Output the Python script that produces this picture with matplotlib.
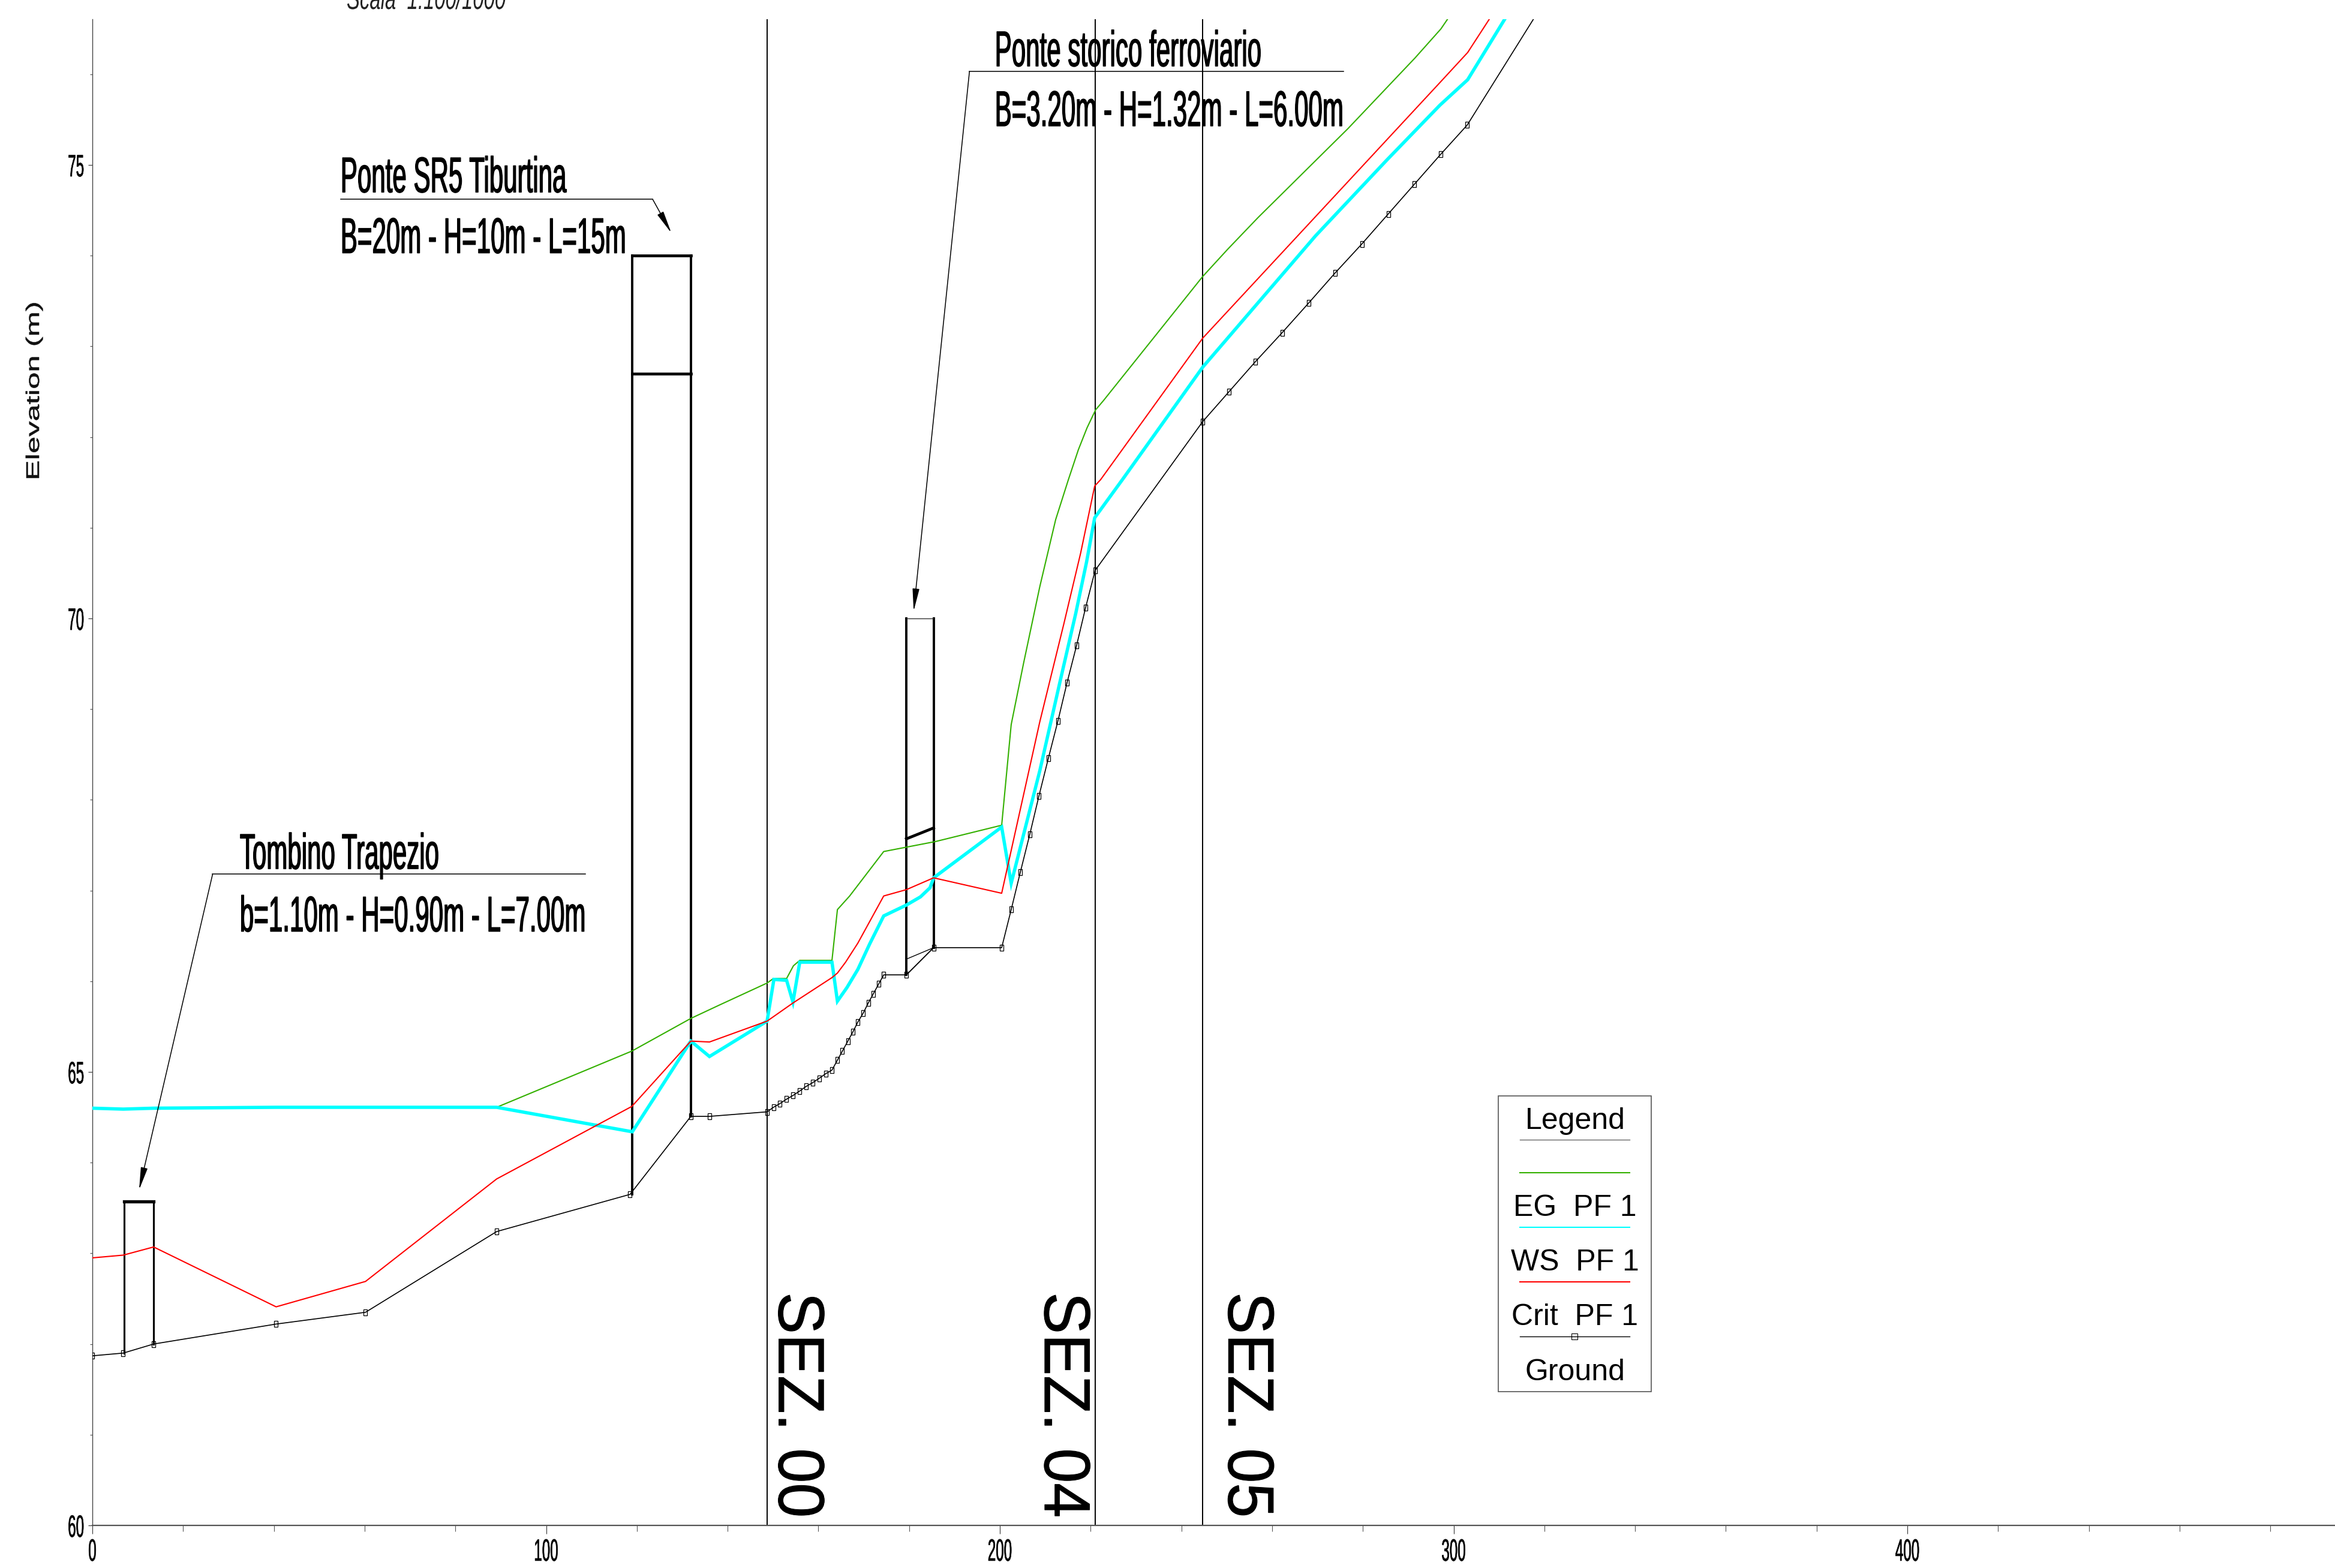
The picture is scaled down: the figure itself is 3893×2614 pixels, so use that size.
import matplotlib
matplotlib.use("Agg")
import matplotlib.pyplot as plt
from matplotlib.lines import Line2D
from matplotlib.markers import MarkerStyle
from matplotlib.patches import Rectangle
from matplotlib.patheffects import AbstractPathEffect
from matplotlib.transforms import Affine2D

W, H = 3893, 2614

# Energy grade
x_eg = [0, 6.8, 13.5, 40.5, 60.2, 89.1, 118.9, 131.9, 138.3, 148.7, 150.1, 153.0, 154.5, 155.9,
        163.0, 164.2, 166.9, 174.4, 185.8, 200.4, 202.5, 205.2, 208.8, 212.3, 215.1, 217.3,
        219.2, 221.1, 222.8, 244.7, 250.2, 256.9, 276.7, 291.5, 297.2, 298.7, 302.0]
eg = [64.60, 64.59, 64.60, 64.61, 64.61, 64.61, 65.23, 65.59, 65.74, 65.98, 66.03, 66.03, 66.17, 66.23,
      66.23, 66.79, 66.94, 67.43, 67.54, 67.72, 68.83, 69.50, 70.35, 71.09, 71.53, 71.86,
      72.10, 72.30, 72.40, 73.77, 74.07, 74.42, 75.40, 76.18, 76.50, 76.61, 77.00]

# Water surface
x_ws = [0, 6.8, 13.5, 40.5, 60.2, 89.1, 119.0, 131.9, 136.0, 148.7, 150.2, 153.0, 154.4, 155.9,
        163.0, 164.2, 166.3, 168.7, 171.3, 174.4, 179.4, 182.5, 184.6, 185.4, 200.4, 202.5,
        208.8, 213.2, 216.7, 219.1, 220.9, 227.0, 244.7, 269.6, 285.2, 297.0, 303.1, 311.3, 315.5]
ws = [64.60, 64.59, 64.60, 64.61, 64.61, 64.61, 64.34, 65.34, 65.17, 65.56, 66.02, 66.01, 65.77, 66.21,
      66.21, 65.78, 65.93, 66.13, 66.41, 66.72, 66.84, 66.93, 67.03, 67.14, 67.70, 67.08,
      68.32, 69.29, 70.05, 70.62, 71.11, 71.53, 72.77, 74.22, 75.05, 75.66, 75.94, 76.61, 77.00]

# Critical depth
x_crit = [0, 6.8, 13.5, 40.5, 60.2, 89.1, 118.9, 131.9, 136.0, 148.7, 154.4, 163.0, 164.2, 166.0,
          168.7, 174.4, 179.4, 185.4, 200.4, 208.8, 214.1, 217.8, 220.9, 222.2, 244.7, 275.5,
          297.2, 303.1, 307.9, 311.0]
crit = [62.95, 62.98, 63.07, 62.41, 62.69, 63.82, 64.62, 65.34, 65.33, 65.56, 65.76, 66.04, 66.09, 66.21,
        66.42, 66.94, 67.01, 67.14, 66.97, 68.86, 69.94, 70.72, 71.46, 71.53, 73.09, 74.75,
        75.92, 76.24, 76.61, 76.95]

# Ground
x_ground = [0, 6.8, 13.5, 40.5, 60.2, 89.1, 118.5, 131.9, 136.0, 148.7, 150.1, 151.5, 153.0, 154.4,
            155.9, 157.3, 158.7, 160.2, 161.6, 163.0, 164.2, 165.3, 166.5, 167.6, 168.7, 169.9,
            171.0, 172.1, 173.3, 174.4, 179.4, 185.4, 200.4, 202.5, 204.5, 206.6, 208.6, 210.7,
            212.8, 214.8, 216.9, 218.9, 221.0, 244.7, 250.5, 256.3, 262.2, 268.1, 273.9, 279.8,
            285.6, 291.4, 297.2, 303.0, 322.0]
ground = [61.87, 61.90, 62.00, 62.22, 62.35, 63.24, 63.65, 64.51, 64.51, 64.56, 64.61, 64.65, 64.70, 64.74,
          64.79, 64.84, 64.88, 64.93, 64.98, 65.02, 65.13, 65.23, 65.34, 65.44, 65.55, 65.65,
          65.76, 65.86, 65.97, 66.07, 66.07, 66.37, 66.37, 66.79, 67.20, 67.62, 68.04, 68.46,
          68.87, 69.29, 69.70, 70.12, 70.53, 72.17, 72.50, 72.83, 73.15, 73.48, 73.81, 74.13,
          74.46, 74.79, 75.12, 75.44, 76.96]

sez_x = [148.7, 221.0, 244.7]
sez_labels = ["SEZ. 00", "SEZ. 04", "SEZ. 05"]
sez_text_x = [148.4, 207.0, 247.5]

# Structures: left, right, top, low chord left/right, bottom left/right
tombino = [7.0, 13.5, 63.57, 61.90, 62.00]
sr5 = [119.0, 131.9, 74.0, 72.70, 63.65, 64.51]
storico = [179.4, 185.4, 70.0, 67.57, 67.69, 66.07, 66.37]

legend_labels = ["EG  PF 1", "WS  PF 1", "Crit  PF 1", "Ground"]
legend_colors = ["#33b000", "#00ffff", "#ff0000", "#000000"]

x_major = [0, 100, 200, 300, 400]
y_major = [60, 65, 70, 75]


class Squeeze(AbstractPathEffect):
    # the source drawing is stretched unevenly, so scale the glyphs around the text anchor
    def __init__(self, text, sx=1.0, sy=1.0, stroke=0.0):
        super().__init__()
        self.text = text
        self.sx = sx
        self.sy = sy
        self.stroke = stroke

    def draw_path(self, renderer, gc, tpath, affine, rgbFace=None):
        ax_, ay_ = self.text.get_transform().transform(self.text.get_position())
        extra = Affine2D().translate(-ax_, -ay_).scale(self.sx, self.sy).translate(ax_, ay_)
        gc0 = renderer.new_gc()
        gc0.copy_properties(gc)
        gc0.set_linewidth(self.stroke)
        gc0.set_foreground(rgbFace)
        renderer.draw_path(gc0, tpath, affine + extra, rgbFace)
        gc0.restore()


def squeeze(text, sx=1.0, sy=1.0, stroke=0.0):
    text.set_path_effects([Squeeze(text, sx, sy, stroke)])
    return text


def fx(px):
    return px / W


def fy(py):
    return 1 - py / H


plt.rcParams['font.family'] = ['Liberation Sans', 'DejaVu Sans']

fig = plt.figure(figsize=(W / 100, H / 100), dpi=100)
ax = fig.add_axes([fx(154), fy(2543), fx(W - 154), fy(32) - fy(2543)])
ax.set_xlim(0, (W - 154) / 7.565)
ax.set_ylim(60, 60 + (2543 - 32) / 151.2)

for side in ['top', 'right']:
    ax.spines[side].set_visible(False)
ax.spines['left'].set_linewidth(1.0)
ax.spines['left'].set_color('#444444')
ax.spines['bottom'].set_linewidth(1.6)
ax.spines['bottom'].set_color('#555555')

ax.set_xticks(x_major)
ax.set_xticks([v for v in range(0, 500, 20) if v not in x_major], minor=True)
ax.set_yticks(y_major)
ax.set_yticks([v for v in range(60, 77) if v not in y_major], minor=True)
ax.tick_params(axis='x', which='major', length=10, width=0.8, color='#333333', pad=5, labelsize=37)
ax.tick_params(axis='x', which='minor', length=7, width=0.8, color='#555555')
ax.tick_params(axis='y', which='major', length=5, width=0.8, color='#333333', pad=5, labelsize=37)
ax.tick_params(axis='y', which='minor', length=3, width=0.8, color='#555555')
for lab in ax.get_xticklabels() + ax.get_yticklabels():
    squeeze(lab, sx=0.47, stroke=0.5)

# sections
for v in sez_x:
    ax.axvline(v, color='black', lw=1.4, zorder=2)
for v, lab in zip(sez_text_x, sez_labels):
    t = ax.text(v, 62.57, lab, rotation=270, ha='left', va='top', fontsize=78, color='black')
    squeeze(t, sy=0.96, stroke=0.8)

# structures
lw_b = 2.8
ax.plot([tombino[0], tombino[0]], [tombino[3], tombino[2]], color='black', lw=lw_b * 0.8, zorder=3)
ax.plot([tombino[1], tombino[1]], [tombino[4], tombino[2]], color='black', lw=lw_b * 0.8, zorder=3)
ax.plot(tombino[:2], [tombino[2], tombino[2]], color='black', lw=lw_b + 1, zorder=3)

ax.plot([sr5[0], sr5[0]], [sr5[4], sr5[2]], color='black', lw=lw_b, zorder=3)
ax.plot([sr5[1], sr5[1]], [sr5[5], sr5[2]], color='black', lw=lw_b, zorder=3)
ax.plot(sr5[:2], [sr5[2], sr5[2]], color='black', lw=lw_b + 0.6, zorder=3)
ax.plot(sr5[:2], [sr5[3], sr5[3]], color='black', lw=lw_b + 0.6, zorder=3)

ax.plot([storico[0], storico[0]], [storico[5], storico[2]], color='black', lw=lw_b, zorder=3)
ax.plot([storico[1], storico[1]], [storico[6], storico[2]], color='black', lw=lw_b, zorder=3)
ax.plot(storico[:2], [storico[2], storico[2]], color='#333333', lw=1.0, zorder=3)
ax.plot(storico[:2], [storico[3], storico[4]], color='black', lw=lw_b + 0.6, zorder=3)
ax.plot([storico[0], storico[1], storico[0] + 0.3], [storico[5], storico[6], 66.25],
        color='black', lw=1.0, zorder=3)

# profiles
marker = MarkerStyle('s', fillstyle='none', transform=Affine2D().scale(0.65, 1.0))
ax.plot(x_eg, eg, color=legend_colors[0], lw=1.5, zorder=4)
ax.plot(x_ws, ws, color=legend_colors[1], lw=4.0, zorder=5, solid_joinstyle='miter')
ax.plot(x_crit, crit, color=legend_colors[2], lw=1.5, zorder=6)
ax.plot(x_ground, ground, color='black', lw=1.2, marker=marker, ms=7, mew=0.9, zorder=6)

# callouts
texts = [
    (32.5, 67.24, "Tombino Trapezio"),
    (32.5, 66.55, "b=1.10m - H=0.90m - L=7.00m"),
    (54.7, 74.70, "Ponte SR5 Tiburtina"),
    (54.7, 74.03, "B=20m - H=10m - L=15m"),
    (198.9, 76.09, "Ponte storico ferroviario"),
    (198.9, 75.43, "B=3.20m - H=1.32m - L=6.00m"),
]
for tx, ty, lab in texts:
    t = ax.text(tx, ty, lab, ha='left', va='baseline', fontsize=60, color='black', zorder=8)
    squeeze(t, sx=0.505, stroke=1.0)

leaders = [
    ([108.7, 26.5], 67.18, (10.3, 63.7)),
    ([54.7, 123.5], 74.62, (127.6, 74.25)),
    ([275.8, 193.3], 76.03, (181.0, 70.08)),
]
arrow_style = "-|>,head_length=2.3,head_width=0.35"
for xs, ly, tip in leaders:
    ax.plot(xs, [ly, ly], color='black', lw=1.1, zorder=7)
    ax.annotate("", xy=tip, xytext=(xs[1], ly), zorder=7,
                arrowprops=dict(arrowstyle=arrow_style, color='black', lw=1.1,
                                shrinkA=0, shrinkB=0, mutation_scale=10))

# left axis title
t = fig.text(fx(57), fy(652), "Elevation (m)", rotation=90, ha='center', va='center',
             fontsize=22, color='#111111')
squeeze(t, sy=1.66, stroke=0.4)

# scale note, cut by the top of the sheet
t = fig.text(fx(578), fy(15), "Scala  1:100/1000", ha='left', va='baseline', fontsize=37,
             style='italic', color='#222222')
squeeze(t, sx=0.64)

# legend box
fig.add_artist(Rectangle((fx(2498), fy(2320)), fx(2753) - fx(2498), fy(1827) - fy(2320),
                         transform=fig.transFigure, fill=False, edgecolor='#555555', lw=1.2))
fig.text(fx(2626), fy(1869), "Legend", ha='center', va='center', fontsize=36, color='black')
fig.add_artist(Line2D([fx(2534), fx(2717)], [fy(1900), fy(1900)], color='#666666', lw=1.0))

line_rows = [1955, 2046, 2137, 2228]
text_rows = [2014, 2105, 2196, 2288]
for k in range(4):
    fig.add_artist(Line2D([fx(2534), fx(2717)], [fy(line_rows[k]), fy(line_rows[k])],
                          color=legend_colors[k], lw=1.5 if k < 3 else 1.0))
    fig.text(fx(2626), fy(text_rows[k]), legend_labels[k], ha='center', va='center',
             fontsize=36, color='black')
fig.add_artist(Line2D([fx(2625)], [fy(line_rows[3])], marker='s', ms=7.5, mfc='none',
                      mec='black', mew=0.8, ls='none'))

fig.savefig('out.png', dpi=100, facecolor='white')
